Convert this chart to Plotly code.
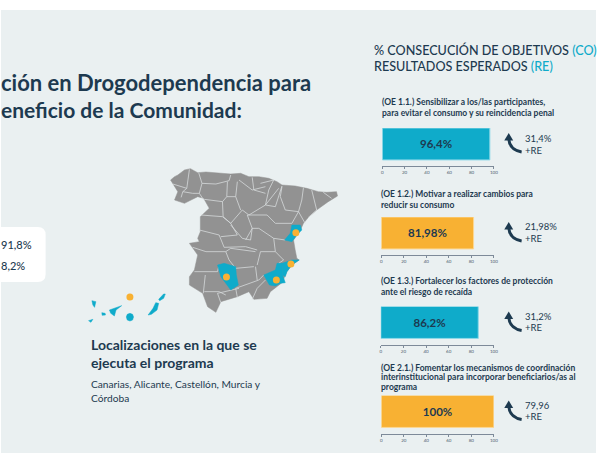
import plotly.graph_objects as go

W, H = 600, 460
NAVY = '#1d3a50'
BLUE = '#0fabca'
ORANGE = '#f8b133'
GREY = '#929292'
PANEL = '#eaf0f1'
FONT = 'Lato'

# bars
objectives = [
    ['(OE 1.1.) Sensibilizar a los/las participantes,', 'para evitar el consumo y su reincidencia penal'],
    ['(OE 1.2.) Motivar a realizar cambios para', 'reducir su consumo'],
    ['(OE 1.3.) Fortalecer los factores de protección', 'ante el riesgo de recaída'],
    ['(OE 2.1.) Fomentar los mecanismos de coordinación', 'interinstitucional para incorporar beneficiarios/as al', 'programa'],
]
values = [96.4, 81.98, 86.2, 100]
value_labels = ['96,4%', '81,98%', '86,2%', '100%']
gains = ['31,4%', '21,98%', '31,2%', '79,96']
colors = [BLUE, ORANGE, BLUE, ORANGE]
edges = ['#8fd9e8', '#fcd793', '#8fd9e8', '#fcd793']
ticks = [0, 20, 40, 60, 80, 100]

# map, in map units
spain_x = [273, 285, 295, 315, 333, 355, 380, 415, 455, 485, 510, 540, 570, 595, 610, 650, 685, 720, 745, 775, 778, 750, 715, 690, 675, 665, 645, 650, 655, 662, 640, 625, 610, 575, 565, 525, 510, 475, 425, 410, 385, 370, 330, 330, 345, 355, 345, 330, 360, 355, 363, 363, 390, 373, 355, 315, 285, 295, 273]
spain_y = [60, 50, 45, 30, 26, 38, 36, 38, 42, 40, 50, 50, 55, 65, 75, 78, 85, 95, 97, 95, 108, 125, 150, 172, 190, 212, 240, 270, 295, 300, 315, 335, 368, 395, 415, 418, 395, 410, 425, 457, 440, 400, 375, 350, 330, 285, 270, 250, 245, 235, 215, 170, 145, 115, 110, 130, 120, 95, 60]
borders = [
    [(330, 28), (325, 60), (322, 85)], [(280, 72), (300, 78), (322, 85)], [(310, 95), (305, 112)],
    [(310, 95), (340, 100), (360, 100)], [(322, 85), (310, 95)], [(358, 38), (368, 70), (360, 100), (372, 118)],
    [(368, 70), (410, 72), (450, 62), (455, 45)], [(445, 65), (443, 110), (430, 125), (432, 170)],
    [(375, 118), (430, 125)], [(365, 165), (430, 170), (455, 190)], [(475, 65), (470, 110), (485, 150)],
    [(443, 110), (470, 110)], [(432, 170), (455, 190), (490, 150), (510, 165)], [(510, 165), (560, 135), (600, 85)],
    [(480, 60), (520, 90), (560, 80)], [(520, 52), (525, 90), (560, 100)], [(545, 70), (585, 60), (570, 90), (560, 135)],
    [(610, 78), (590, 140), (560, 135)], [(610, 80), (605, 110), (620, 150), (660, 155)],
    [(675, 83), (670, 120), (660, 155), (680, 190)], [(700, 90), (715, 150), (690, 172)], [(735, 97), (760, 115)],
    [(565, 165), (590, 190), (640, 190), (660, 155)], [(505, 165), (520, 205), (500, 240)], [(520, 205), (540, 205), (585, 235), (620, 240)],
    [(505, 165), (565, 165)], [(455, 195), (490, 235), (515, 240), (520, 205)], [(455, 190), (475, 225), (425, 230)],
    [(360, 210), (420, 225), (435, 262), (500, 260), (535, 270)], [(340, 262), (380, 275), (440, 275), (455, 265)],
    [(585, 235), (590, 275), (545, 275), (535, 315)], [(455, 265), (530, 275)], [(590, 275), (615, 300), (600, 310)],
    [(440, 275), (450, 300), (470, 325), (525, 320)], [(470, 385), (540, 360), (555, 345)], [(520, 418), (535, 385), (560, 360)],
    [(345, 335), (415, 335), (420, 315)], [(378, 345), (372, 400)], [(375, 395), (420, 395), (440, 405)],
    [(425, 428), (415, 400), (480, 385)], [(470, 385), (475, 412)], [(530, 320), (535, 360)],
]
cordoba = [(415, 315), (435, 310), (470, 320), (472, 345), (478, 375), (455, 390), (440, 370), (425, 350), (415, 315)]
murcia = [(555, 345), (590, 330), (595, 310), (610, 310), (612, 345), (620, 368), (605, 370), (590, 378), (572, 375), (560, 355), (555, 345)]
alicante = [(610, 310), (640, 300), (662, 300), (640, 315), (625, 335), (620, 350), (612, 345), (612, 320), (610, 310)]
castellon = [(640, 195), (665, 195), (670, 210), (655, 225), (640, 245), (618, 240), (635, 220), (640, 195)]
la_palma = [(35, 422), (47, 425), (43, 442), (38, 435), (35, 422)]
el_hierro = [(25, 482), (38, 478), (32, 487), (25, 482)]
la_gomera = [(65, 458), (75, 460), (76, 465), (66, 466), (65, 458)]
tenerife = [(88, 450), (125, 437), (108, 450), (103, 468), (92, 460), (88, 450)]
gran_canaria = [(150, 460), (158, 463), (161, 471), (158, 480), (150, 483), (142, 480), (139, 471), (142, 463), (150, 460)]
fuerteventura = [(228, 428), (237, 430), (232, 450), (215, 463), (205, 465), (220, 445), (228, 428)]
lanzarote = [(237, 418), (252, 402), (257, 402), (252, 415), (240, 422), (237, 418)]
dots_x = [652, 637, 593, 442, 150]
dots_y = [218, 312, 360, 351, 411]

# bar panels in pixels: left, right, top, axis line
bar_boxes = [(384.5, 497, 128, 166), (383.5, 497, 217, 255), (383, 497, 306.5, 344.5), (383.5, 497, 395.5, 433.5)]
label_ys = [[102, 113], [194, 205], [281, 292], [367.5, 377.3, 387]]
gain_ys = [[138.5, 150], [226.5, 238], [316, 327.5], [405, 416.5]]


def px(x):
    return x / W


def py(y):
    return 1 - y / H


def text(x, y, s, size, color=NAVY, weight=400, anchor='left'):
    fig.add_annotation(x=px(x), y=py(y), xref='paper', yref='paper', text=s, showarrow=False,
                       xanchor=anchor, yanchor='middle', align=anchor, borderpad=0, borderwidth=0,
                       font=dict(family=FONT, size=size, color=color, weight=weight))


fig = go.Figure()

# background panel and white card
fig.add_shape(type='rect', xref='paper', yref='paper', x0=0, x1=1, y0=py(453), y1=py(10),
              fillcolor=PANEL, line_width=0, layer='below')
fig.add_shape(type='path', xref='paper', yref='paper', layer='below', fillcolor='white', line_width=0,
              path=f'M 0 {py(227)} L {px(37)} {py(227)} Q {px(45)} {py(227)} {px(45)} {py(235)} '
                   f'L {px(45)} {py(274)} Q {px(45)} {py(282)} {px(37)} {py(282)} L 0 {py(282)} Z')

for i, v in enumerate(values):
    x0, x1, top, bottom = bar_boxes[i]
    fig.add_trace(go.Bar(x=[v], y=[0], orientation='h', width=1, xaxis=f'x{i + 1}', yaxis=f'y{i + 1}',
                         marker=dict(color=colors[i], line=dict(color=edges[i], width=1)),
                         text=[value_labels[i]], textposition='inside', insidetextanchor='middle',
                         textangle=0, constraintext='none',
                         textfont=dict(family=FONT, size=11.5, color=NAVY, weight=700),
                         showlegend=False, hoverinfo='skip'))
    fig.update_layout({
        f'xaxis{i + 1}': dict(domain=[px(x0), px(x1)], range=[0, 100], anchor=f'y{i + 1}', tickvals=ticks,
                              ticks='outside', ticklen=2, tickwidth=0.7, tickcolor='#7d8a99', showline=True,
                              linecolor='#7d8a99', linewidth=1, showgrid=False, zeroline=False,
                              tickfont=dict(family=FONT, size=4.5, color='#4d6070')),
        f'yaxis{i + 1}': dict(domain=[py(bottom), py(top)], range=[-0.69, 0.5], anchor=f'x{i + 1}', visible=False),
    })
    for s, y in zip(objectives[i], label_ys[i]):
        text(x0, y, s, 8.5, weight=700)
    text(528, gain_ys[i][0], gains[i], 9.5)
    text(528, gain_ys[i][1], '+RE', 9.5)
    # curved arrow next to the bar
    y0 = top + 5
    fig.add_shape(type='path', xref='paper', yref='paper', line=dict(color=NAVY, width=2.8),
                  path=f'M {px(512)} {py(y0 + 6)} Q {px(513)} {py(y0 + 17)} {px(525)} {py(y0 + 19)}')
    fig.add_shape(type='path', xref='paper', yref='paper', fillcolor=NAVY, line_width=0,
                  path=f'M {px(512)} {py(y0)} L {px(516.5)} {py(y0 + 7.5)} L {px(507.5)} {py(y0 + 7.5)} Z')

# map
fig.add_trace(go.Scatter(x=spain_x, y=spain_y, xaxis='x5', yaxis='y5', mode='lines', fill='toself',
                         fillcolor=GREY, line=dict(color=GREY, width=0.5), showlegend=False, hoverinfo='skip'))
for b in borders:
    fig.add_trace(go.Scatter(x=[p[0] for p in b], y=[p[1] for p in b], xaxis='x5', yaxis='y5', mode='lines',
                             line=dict(color='#d5d9da', width=0.8), showlegend=False, hoverinfo='skip'))
for poly in [cordoba, murcia, alicante, castellon, la_palma, el_hierro, la_gomera, tenerife, gran_canaria,
             fuerteventura, lanzarote]:
    fig.add_trace(go.Scatter(x=[p[0] for p in poly], y=[p[1] for p in poly], xaxis='x5', yaxis='y5', mode='lines',
                             fill='toself', fillcolor=BLUE, line=dict(color=BLUE, width=0.5),
                             showlegend=False, hoverinfo='skip'))
fig.add_trace(go.Scatter(x=dots_x, y=dots_y, xaxis='x5', yaxis='y5', mode='markers',
                         marker=dict(color=ORANGE, size=7), showlegend=False, hoverinfo='skip'))
fig.update_layout(
    xaxis5=dict(domain=[px(80), px(360)], range=[0, 840], anchor='y5', visible=False),
    yaxis5=dict(domain=[py(340), py(160)], range=[540, 0], anchor='x5', visible=False),
)

# text
text(0, 83, 'ción en Drogodependencia para', 22, weight=700)
text(0, 110, 'eneficio de la Comunidad:', 21, weight=700)
text(31, 244, '91,8%', 11, anchor='right', weight=500)
text(24.5, 265, '8,2%', 11, anchor='right', weight=500)
text(376, 50, f'% CONSECUCIÓN DE OBJETIVOS <span style="color:{BLUE}">(CO)</span>', 12.6, weight=500)
text(376, 67, f'RESULTADOS ESPERADOS <span style="color:{BLUE}">(RE)</span>', 12.6, weight=500)
text(91, 344, 'Localizaciones en la que se', 14, weight=700)
text(91, 362, 'ejecuta el programa', 14, weight=700)
text(91, 384, 'Canarias, Alicante, Castellón, Murcia y', 10.2)
text(91, 398, 'Córdoba', 10.2)

fig.update_layout(width=W, height=H, margin=dict(l=0, r=0, t=0, b=0), paper_bgcolor='white',
                  plot_bgcolor='rgba(0,0,0,0)', showlegend=False)

fig.write_html("out.html", config={'displayModeBar': False}, post_script="document.body.style.margin='0';")
